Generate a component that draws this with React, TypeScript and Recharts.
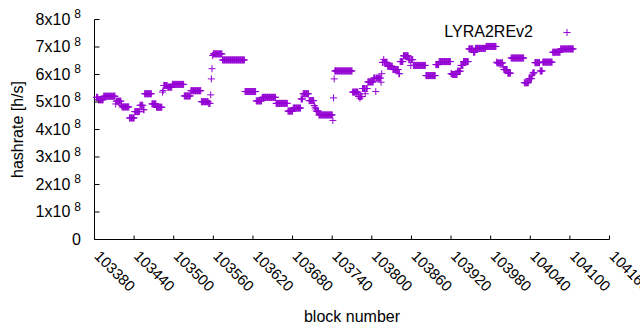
import { ScatterChart, Scatter, XAxis, YAxis, Legend } from "recharts";

const seriesName = "LYRA2REv2";
const blockTicks = [
  103380, 103440, 103500, 103560, 103620, 103680, 103740, 103800, 103860,
  103920, 103980, 104040, 104100, 104160,
];
// hashrate axis in units of 10^8 h/s
const rateTicks = [0, 1, 2, 3, 4, 5, 6, 7, 8];

// hashrate per block (10^8 h/s), consecutive blocks from each start block
const startA = 103383;
const hashrateA = [
  5.17, 5.17, 5.17,
  5.08, 5.08, 5.08, 5.08, 5.08, 5.08, 5.08, 5.08,
  5.21, 5.21, 5.21, 5.21, 5.21, 5.21, 5.21, 5.21, 5.21, 5.21, 5.21, 5.21, 5.21, 5.21, 5.21, 5.21, 5.21, 5.21,
  4.93,
  5.03, 5.03, 5.03, 5.03, 5.03, 5.03, 5.03, 5.03,
  4.87,
  4.82, 4.82, 4.82, 4.82, 4.82, 4.82, 4.82, 4.82, 4.82, 4.82, 4.82,
  4.42, 4.42, 4.42, 4.42, 4.42, 4.42, 4.42, 4.42,
  4.65, 4.65, 4.65, 4.65, 4.65, 4.65, 4.65, 4.65,
  4.88, 4.88, 4.88, 4.88, 4.88,
  4.72, 4.72,
  5.3, 5.3, 5.3, 5.3, 5.3, 5.3, 5.3, 5.3, 5.3, 5.3, 5.3,
  4.93, 4.93, 4.93, 4.93, 4.93, 4.93, 4.93,
  4.81, 4.81, 4.81, 4.81, 4.81, 4.81, 4.81, 4.81, 4.81,
  5.36, 5.42,
  5.6, 5.6, 5.6, 5.6, 5.6, 5.6,
  5.54, 5.54, 5.54, 5.54, 5.54, 5.54, 5.54,
  5.64, 5.64, 5.64, 5.64, 5.64, 5.64, 5.64, 5.64, 5.64, 5.64, 5.64, 5.64, 5.64, 5.64, 5.64, 5.64, 5.64, 5.64,
  5.22, 5.22, 5.22, 5.22, 5.22, 5.22, 5.22, 5.22, 5.22, 5.22,
  5.41, 5.41, 5.41, 5.41, 5.41, 5.41, 5.41, 5.41, 5.41, 5.41, 5.41, 5.41, 5.41, 5.41, 5.41, 5.41,
  5.01, 5.01, 5.01, 5.01, 5.01, 5.01, 5.01, 5.01, 5.01, 5.01, 5.01,
  4.95, 4.95, 4.95,
  5.26, 5.84, 6.21, 6.69,
];

const startB = 103560;
const hashrateB = [
  6.75, 6.75, 6.75, 6.75, 6.75, 6.75, 6.75, 6.75, 6.75, 6.75, 6.75, 6.75, 6.75, 6.75,
  6.53, 6.53, 6.53, 6.53, 6.53, 6.53, 6.53, 6.53, 6.53, 6.53, 6.53, 6.53, 6.53, 6.53, 6.53, 6.53, 6.53,
  6.53, 6.53, 6.53, 6.53, 6.53, 6.53, 6.53, 6.53, 6.53, 6.53, 6.53, 6.53, 6.53, 6.53, 6.53, 6.53, 6.53,
  5.38, 5.38, 5.38, 5.38, 5.38, 5.38, 5.38, 5.38, 5.38, 5.38, 5.38, 5.38, 5.38, 5.38, 5.38, 5.38, 5.38,
  5.04, 5.04, 5.04, 5.04, 5.04, 5.04, 5.04, 5.04, 5.04,
  5.17, 5.17, 5.17, 5.17, 5.17, 5.17, 5.17, 5.17, 5.17, 5.17, 5.17, 5.17, 5.17, 5.17, 5.17, 5.17, 5.17, 5.17, 5.17, 5.17, 5.17,
  4.95, 4.95, 4.95, 4.95, 4.95, 4.95, 4.95, 4.95, 4.95, 4.95, 4.95, 4.95, 4.95, 4.95, 4.95, 4.95, 4.95, 4.95,
  4.67, 4.67, 4.67, 4.67, 4.67, 4.67, 4.67, 4.67,
  4.78, 4.78, 4.78, 4.78, 4.78, 4.78, 4.78, 4.78, 4.78, 4.78, 4.78, 4.78,
  5.11, 5.11, 5.11,
  5.3, 5.3, 5.3, 5.3, 5.3, 5.3, 5.3, 5.3, 5.3,
  5.05, 5.05, 5.05, 5.05, 5.05, 5.05, 5.05, 5.05,
  4.87, 4.81, 4.75,
  4.67, 4.67, 4.67, 4.67,
  4.53, 4.53, 4.53, 4.53, 4.53, 4.53, 4.53, 4.53, 4.53, 4.53, 4.53, 4.53, 4.53, 4.53, 4.53, 4.53, 4.53, 4.53, 4.53, 4.53, 4.53,
  4.33, 5.15, 5.84,
];

const startC = 103744;
const hashrateC = [
  6.13, 6.13, 6.13, 6.13, 6.13, 6.13, 6.13, 6.13, 6.13, 6.13, 6.13, 6.13, 6.13, 6.13,
  6.13, 6.13, 6.13, 6.13, 6.13, 6.13, 6.13, 6.13, 6.13, 6.13, 6.13, 6.13, 6.13,
  5.36, 5.36, 5.36, 5.36, 5.36, 5.36, 5.36, 5.36, 5.36,
  5.2, 5.2, 5.14, 5.2, 5.2, 5.2,
  5.49, 5.49, 5.49, 5.49, 5.3, 5.49, 5.49, 5.49,
  5.73, 5.73, 5.73, 5.73, 5.73, 5.73, 5.73, 5.73, 5.73,
  5.87, 5.87, 5.87, 5.38, 5.87, 5.87, 5.87, 5.87, 5.87, 5.87, 5.87,
  5.72, 6.03,
  6.44, 6.44, 6.55, 6.44, 6.44, 6.44, 6.44, 6.44,
  6.3, 6.3, 6.3, 6.3, 6.3, 6.3, 6.3, 6.3,
  6.18, 6.18, 6.18, 6.18, 6.18, 6.18, 6.18, 6.18, 6.18,
  6.03, 6.03,
  6.47, 6.47, 6.47, 6.47, 6.47,
  6.68, 6.68, 6.68, 6.68, 6.68, 6.68, 6.68, 6.68,
  6.54, 6.54, 6.54, 6.33, 6.54, 6.54, 6.54,
  6.33, 6.33, 6.33, 6.33, 6.33, 6.33, 6.33, 6.33, 6.33, 6.33, 6.33, 6.33, 6.33, 6.33, 6.33, 6.33, 6.33, 6.33, 6.33,
  5.96, 5.96, 5.96, 5.96, 5.96, 5.96, 5.96, 5.96, 5.96, 5.96, 5.96, 5.96, 5.96, 5.96, 5.96,
  6.36, 6.36, 6.36, 6.36, 6.36,
  6.47, 6.47, 6.47, 6.47, 6.47, 6.47, 6.47, 6.47, 6.47, 6.47, 6.47, 6.47, 6.47, 6.47, 6.47, 6.47, 6.47, 6.47,
  6.03, 6.03,
  6.0, 6.0, 6.0, 6.0, 6.0, 6.0, 6.0, 6.0,
  6.12, 6.12, 6.12, 6.12, 6.12,
  6.33, 6.33, 6.33, 6.33,
  6.47, 6.47, 6.47, 6.47, 6.47, 6.47, 6.47, 6.47,
];

const startD = 103947;
const hashrateD = [
  6.93, 6.93, 6.93, 6.93, 6.93, 6.93, 6.93,
  6.81, 6.81, 6.81,
  6.95, 6.95, 6.95, 6.95, 6.95, 6.95, 6.95, 6.95, 6.95, 6.95, 6.95, 6.95, 6.95, 6.95, 6.95, 6.95,
  7.02, 7.02, 7.02, 7.02, 7.02, 7.02, 7.02, 7.02, 7.02, 7.02, 7.02, 7.02, 7.02, 7.02, 7.02, 7.02,
  6.45,
  6.42, 6.42, 6.42, 6.42, 6.42, 6.42, 6.42, 6.42, 6.42,
  6.27,
  6.18, 6.18, 6.18, 6.18, 6.18, 6.18,
  6.05, 6.05, 6.05, 6.05, 6.05,
  6.6, 6.6, 6.6, 6.6, 6.6, 6.6, 6.6, 6.6, 6.6, 6.6, 6.6, 6.6, 6.6, 6.6, 6.6, 6.6, 6.6, 6.6, 6.6, 6.6,
  5.7, 5.7, 5.7, 5.7, 5.7, 5.7, 5.7,
  5.85, 5.85, 5.85, 5.85, 5.85,
  5.99,
  6.06, 6.06, 6.06,
  6.43, 6.43, 6.43, 6.43, 6.43, 6.43, 6.43, 6.43,
  6.13, 6.13, 6.13, 6.13,
  6.45, 6.45, 6.45, 6.45, 6.45, 6.45, 6.45, 6.45, 6.45, 6.45, 6.45, 6.45, 6.45, 6.45, 6.45,
  6.81, 6.81, 6.81, 6.81, 6.81, 6.81, 6.81, 6.81, 6.81, 6.81, 6.81, 6.81,
  6.93, 6.93, 6.93, 6.93, 6.93, 6.93, 6.93, 6.93, 6.93, 6.93, 6.93, 6.93, 6.93, 6.93, 6.93, 6.93, 6.93, 6.93, 6.93, 6.93,
];

const points = [
  ...hashrateA.map((rate, i) => ({ block: startA + i, rate })),
  ...hashrateB.map((rate, i) => ({ block: startB + i, rate })),
  ...hashrateC.map((rate, i) => ({ block: startC + i, rate })),
  ...hashrateD.map((rate, i) => ({ block: startD + i, rate })),
];

const COLOR = "#9400d3";
const FONT = "'Liberation Sans', Arial, sans-serif";

function Plus(props: any) {
  const { cx, cy } = props;
  return (
    <path
      d={`M${cx - 3.5} ${cy}h7M${cx} ${cy - 3.5}v7`}
      stroke={COLOR}
      strokeWidth={1}
      fill="none"
    />
  );
}

function LeftTick({ x, y, payload }: any) {
  const v = payload.value;
  return (
    <g>
      <line x1={x} y1={y} x2={x + 5} y2={y} stroke="#000" />
      <text x={x - 13.5} y={y + 5.3} textAnchor="end" fontFamily={FONT} fontSize={16} fill="#000">
        {v === 0 ? (
          "0"
        ) : (
          <>
            <tspan>{v}x10</tspan>
            <tspan dx={4} dy={-6.7} fontSize={12}>8</tspan>
          </>
        )}
      </text>
    </g>
  );
}

function RightTick({ x, y }: any) {
  return <line x1={x} y1={y} x2={x - 5} y2={y} stroke="#000" />;
}

function BottomTick({ x, y, payload }: any) {
  const tx = x - 1;
  const ty = y + 17.5;
  return (
    <g>
      <line x1={x} y1={y} x2={x} y2={y - 4} stroke="#000" />
      <text
        x={tx}
        y={ty}
        transform={`rotate(45 ${tx} ${ty})`}
        fontFamily={FONT}
        fontSize={15}
        fill="#000"
      >
        {payload.value}
      </text>
    </g>
  );
}

function TopTick({ x, y }: any) {
  return <line x1={x} y1={y} x2={x} y2={y + 4} stroke="#000" />;
}

export default function App() {
  return (
    <div style={{ position: "absolute", left: 0, top: 0, background: "#fff" }}>
      <ScatterChart
        width={640}
        height={330}
        margin={{ top: 19.5, right: 30.5, left: 0.5, bottom: 0 }}
      >
        <XAxis
          dataKey="block"
          type="number"
          domain={[103380, 104160]}
          ticks={blockTicks}
          interval={0}
          height={90.5}
          tickSize={0}
          tickMargin={0}
          tick={<BottomTick />}
          axisLine={{ stroke: "#000" }}
          label={{
            value: "block number",
            content: ({ viewBox, value }: any) => (
              <text
                x={viewBox.x + viewBox.width / 2}
                y={viewBox.y + 82}
                textAnchor="middle"
                fontFamily={FONT}
                fontSize={16}
                fill="#000"
              >
                {value}
              </text>
            ),
          }}
        />
        <XAxis
          xAxisId="top"
          orientation="top"
          type="number"
          domain={[103380, 104160]}
          ticks={blockTicks}
          interval={0}
          height={0}
          tickSize={0}
          tickMargin={0}
          tick={<TopTick />}
          axisLine={{ stroke: "#000" }}
        />
        <YAxis
          dataKey="rate"
          type="number"
          domain={[0, 8]}
          ticks={rateTicks}
          interval={0}
          width={94}
          tickSize={0}
          tickMargin={0}
          tick={<LeftTick />}
          axisLine={{ stroke: "#000" }}
          label={{
            value: "hashrate [h/s]",
            content: ({ viewBox, value }: any) => {
              const cx = 23;
              const cy = viewBox.y + viewBox.height / 2;
              return (
                <text
                  x={cx}
                  y={cy}
                  transform={`rotate(-90 ${cx} ${cy})`}
                  textAnchor="middle"
                  fontFamily={FONT}
                  fontSize={16}
                  fill="#000"
                >
                  {value}
                </text>
              );
            },
          }}
        />
        <YAxis
          yAxisId="right"
          orientation="right"
          type="number"
          domain={[0, 8]}
          ticks={rateTicks}
          interval={0}
          width={0}
          tickSize={0}
          tickMargin={0}
          tick={<RightTick />}
          axisLine={{ stroke: "#000" }}
        />
        <Legend
          layout="horizontal"
          align="center"
          verticalAlign="middle"
          wrapperStyle={{ position: "absolute", left: 0, top: 0, width: 640, height: 50, pointerEvents: "none" }}
          content={({ payload }: any) => (
            <svg width={640} height={50} style={{ display: "block" }}>
              <text x={533} y={37.3} textAnchor="end" fontFamily={FONT} fontSize={16} fill="#000">
                {payload?.[0]?.value ?? seriesName}
              </text>
              <path d="M563.5 32.5h7M567 29v7" stroke={COLOR} strokeWidth={1} fill="none" />
            </svg>
          )}
        />
        <Scatter
          name={seriesName}
          data={points}
          fill={COLOR}
          shape={Plus}
          isAnimationActive={false}
        />
      </ScatterChart>
    </div>
  );
}
